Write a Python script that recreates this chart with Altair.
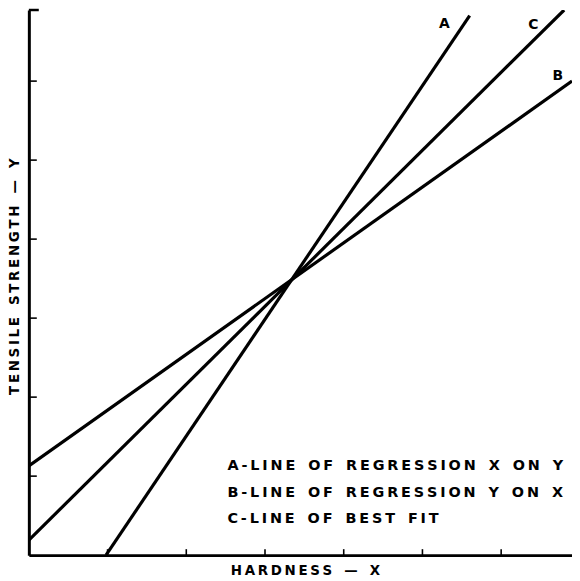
import altair as alt
import pandas as pd

# ---- data ----
series = ["A", "A", "B", "B", "C", "C"]
hardness = [0.98, 5.60, 0.0, 6.9, 0.0, 6.80]
strength = [0.0, 6.83, 1.13, 6.0, 0.19, 6.90]

label_names = ["A", "C", "B"]
label_x = [5.28, 6.41, 6.72]
label_y = [6.72, 6.71, 6.07]

tick_values = [1, 2, 3, 4, 5, 6]

legend_lines = [
    "A-LINE OF REGRESSION X ON Y",
    "B-LINE OF REGRESSION Y ON X",
    "C-LINE OF BEST FIT",
]
x_title = "HARDNESS — X"
y_title = "TENSILE STRENGTH — Y"


def spread(s):
    # wide lettering as in the hand-lettered original
    return "\u2009".join(s.replace(" ", "\u2002"))


FONT = "DejaVu Sans"
xs = alt.Scale(domain=[0, 6.9], nice=False, zero=False)
ys = alt.Scale(domain=[0, 6.9], nice=False, zero=False)

x_axis = alt.Axis(
    title=spread(x_title), labels=False, ticks=False, grid=False,
    domain=True, domainColor="black", domainWidth=3,
    titleFont=FONT, titleFontSize=13.5, titleFontWeight="bold", titleColor="black",
    titleX=278, titleY=15, titleAlign="center", titleBaseline="middle",
)
y_axis = alt.Axis(
    title=spread(y_title), labels=False, ticks=False, grid=False,
    domain=True, domainColor="black", domainWidth=3,
    titleFont=FONT, titleFontSize=13.5, titleFontWeight="bold", titleColor="black",
    titleAngle=270, titleX=-14, titleY=268, titleAlign="center", titleBaseline="middle",
)
X = alt.X("hardness:Q", scale=xs, axis=x_axis)
Y = alt.Y("strength:Q", scale=ys, axis=y_axis)

lines_df = pd.DataFrame({"series": series, "hardness": hardness, "strength": strength})
labels_df = pd.DataFrame({"name": label_names, "hardness": label_x, "strength": label_y})
ticks_df = pd.DataFrame({"hardness": tick_values, "strength": tick_values})

lines = alt.Chart(lines_df).mark_line(
    strokeWidth=3.2, color="black", strokeCap="butt", clip=True
).encode(x=X, y=Y, detail="series:N")

yticks = alt.Chart(ticks_df).mark_rule(color="black", strokeWidth=1.6).encode(
    y=Y, x=alt.value(0), x2=alt.value(8),
)
xticks = alt.Chart(ticks_df).mark_rule(color="black", strokeWidth=1.6).encode(
    x=X, y=alt.value(549), y2=alt.value(543),
)
serif = alt.Chart(pd.DataFrame({"k": [0]})).mark_rule(color="black", strokeWidth=2.5).encode(
    x=alt.value(0), x2=alt.value(10), y=alt.value(0),
)

labels = alt.Chart(labels_df).mark_text(
    font=FONT, fontSize=14, fontWeight="bold", color="black"
).encode(x=X, y=Y, text="name:N")

legend_layers = []
for i, line in enumerate(legend_lines):
    legend_layers.append(
        alt.Chart(pd.DataFrame({"t": [spread(line)]})).mark_text(
            font=FONT, fontSize=14.5, fontWeight="bold", color="black",
            align="left", baseline="middle",
        ).encode(x=alt.value(200), y=alt.value(459 + 27 * i), text="t:N")
    )

chart = alt.layer(lines, yticks, xticks, serif, labels, *legend_layers).properties(
    width=547, height=549,
    autosize=alt.AutoSizeParams(type="none"),
    padding={"left": 21, "top": 0, "right": 0, "bottom": 20},
    background="white",
).configure_view(strokeWidth=0)

chart.save("out.html", embed_options={"renderer": "svg", "actions": False})
